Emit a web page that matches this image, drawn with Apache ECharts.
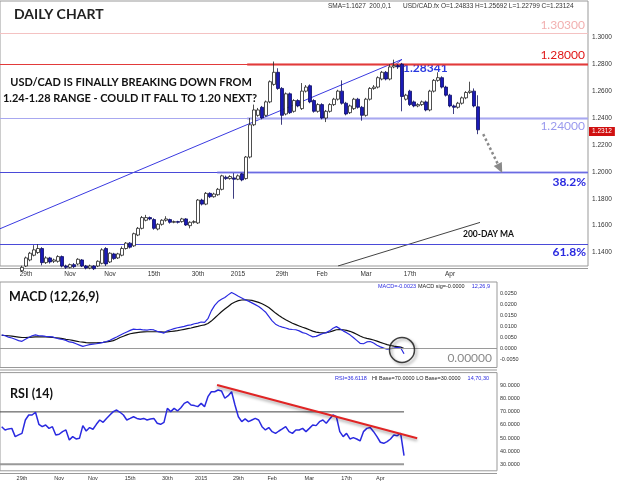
<!DOCTYPE html>
<html><head><meta charset="utf-8">
<script src="https://cdn.jsdelivr.net/npm/echarts@6/dist/echarts.min.js"></script>
<style>html,body{margin:0;padding:0;background:#fff}#c{width:620px;height:486px}</style>
</head><body><div id="c"></div>
<script>
// ---- data ----
const tickIdx = [6,17,27,38,49,59,70,80,91,102,112];
const tickLabels = ['29th','Nov','Nov','15th','30th','2015','29th','Feb','Mar','17th','Apr'];
const opens = [1.1220,1.1235,1.1250,1.1230,1.1240,1.1265,1.1300,1.1345,1.1380,1.1400,
1.1430,1.1325,1.1360,1.1335,1.1335,1.1370,1.1300,1.1290,1.1310,1.1315,
1.1345,1.1300,1.1285,1.1300,1.1300,1.1320,1.1430,1.1330,1.1390,1.1360,
1.1380,1.1430,1.1470,1.1450,1.1530,1.1580,1.1640,1.1660,1.1645,1.1575,
1.1610,1.1640,1.1645,1.1625,1.1630,1.1630,1.1650,1.1600,1.1625,1.1620,
1.1790,1.1760,1.1840,1.1815,1.1830,1.1870,1.1960,1.1950,1.1955,1.1945,
1.1985,1.1950,1.2110,1.2350,1.2420,1.2480,1.2420,1.2520,1.2650,1.2740,
1.2620,1.2430,1.2580,1.2450,1.2530,1.2470,1.2600,1.2640,1.2530,1.2450,
1.2500,1.2400,1.2450,1.2500,1.2540,1.2600,1.2510,1.2440,1.2470,1.2540,
1.2480,1.2420,1.2540,1.2620,1.2630,1.2690,1.2740,1.2690,1.2780,1.2790,
1.2800,1.2540,1.2600,1.2520,1.2490,1.2500,1.2520,1.2460,1.2600,1.2680,
1.2700,1.2630,1.2570,1.2490,1.2480,1.2510,1.2550,1.2590,1.2600,1.24833];
const closes = [1.1235,1.1250,1.1230,1.1240,1.1265,1.1290,1.1360,1.1395,1.1420,1.1430,
1.1325,1.1360,1.1330,1.1345,1.1370,1.1300,1.1290,1.1310,1.1295,1.1350,
1.1300,1.1285,1.1300,1.1280,1.1335,1.1420,1.1315,1.1395,1.1355,1.1390,
1.1430,1.1470,1.1440,1.1540,1.1580,1.1660,1.1660,1.1650,1.1580,1.1610,
1.1640,1.1650,1.1625,1.1630,1.1625,1.1650,1.1605,1.1625,1.1630,1.1790,
1.1760,1.1840,1.1815,1.1835,1.1870,1.1970,1.1950,1.1965,1.1945,1.1970,
1.1940,1.2110,1.2350,1.2460,1.2460,1.2400,1.2520,1.2670,1.2740,1.2620,
1.2420,1.2580,1.2440,1.2530,1.2490,1.2600,1.2630,1.2520,1.2450,1.2500,
1.2400,1.2450,1.2500,1.2540,1.2600,1.2510,1.2430,1.2490,1.2540,1.2480,
1.2420,1.2540,1.2620,1.2630,1.2700,1.2740,1.2690,1.2780,1.2790,1.2780,
1.2560,1.2570,1.2500,1.2490,1.2500,1.2520,1.2460,1.2600,1.2680,1.2700,
1.2630,1.2570,1.2490,1.2480,1.2510,1.2550,1.2590,1.2600,1.2490,1.23124];
const lows = [1.1205,1.1225,1.1220,1.1218,1.1232,1.1255,1.1292,1.1335,1.1372,1.1390,
1.1305,1.1315,1.1318,1.1322,1.1325,1.1290,1.1278,1.1282,1.1285,1.1305,
1.1292,1.1275,1.1276,1.1270,1.1292,1.1312,1.1300,1.1322,1.1346,1.1352,
1.1372,1.1422,1.1430,1.1442,1.1522,1.1572,1.1632,1.1640,1.1570,1.1565,
1.1600,1.1630,1.1615,1.1618,1.1616,1.1622,1.1598,1.1580,1.1615,1.1612,
1.1750,1.1752,1.1805,1.1808,1.1822,1.1862,1.1940,1.1942,1.1800,1.1938,
1.1930,1.1942,1.2100,1.2340,1.2410,1.2390,1.2410,1.2510,1.2640,1.2610,
1.2350,1.2420,1.2430,1.2440,1.2480,1.2460,1.2590,1.2510,1.2440,1.2440,
1.2390,1.2370,1.2440,1.2490,1.2530,1.2500,1.2420,1.2430,1.2460,1.2470,
1.2380,1.2410,1.2530,1.2610,1.2620,1.2680,1.2680,1.2680,1.2770,1.2765,
1.2450,1.2530,1.2490,1.2480,1.2480,1.2490,1.2450,1.2450,1.2590,1.2670,
1.2620,1.2560,1.2480,1.2430,1.2470,1.2500,1.2540,1.2580,1.2480,1.22799];
const highs = [1.1250,1.1262,1.1258,1.1252,1.1275,1.1302,1.1370,1.1405,1.1455,1.1462,
1.1440,1.1372,1.1368,1.1355,1.1380,1.1378,1.1310,1.1318,1.1322,1.1358,
1.1352,1.1308,1.1310,1.1306,1.1342,1.1432,1.1440,1.1402,1.1398,1.1398,
1.1445,1.1478,1.1478,1.1548,1.1590,1.1672,1.1680,1.1668,1.1655,1.1618,
1.1648,1.1670,1.1652,1.1638,1.1636,1.1658,1.1656,1.1632,1.1640,1.1798,
1.1800,1.1850,1.1848,1.1845,1.1880,1.1978,1.1972,1.1975,1.1990,1.1980,
1.1992,1.2118,1.2400,1.2500,1.2475,1.2490,1.2530,1.2680,1.2820,1.2770,
1.2630,1.2590,1.2590,1.2540,1.2540,1.2660,1.2645,1.2650,1.2540,1.2510,
1.2510,1.2460,1.2510,1.2550,1.2610,1.2680,1.2520,1.2500,1.2550,1.2550,
1.2490,1.2550,1.2630,1.2645,1.2710,1.2750,1.2750,1.2800,1.2834,1.2800,
1.2810,1.2580,1.2610,1.2530,1.2510,1.2530,1.2530,1.2610,1.2690,1.2740,
1.2710,1.2640,1.2580,1.2500,1.2520,1.2560,1.2600,1.2670,1.2620,1.25692];
const macd = [0.0062,0.0058,0.0052,0.0048,0.0042,0.0036,0.0033,0.0042,0.0050,0.0058,
0.0062,0.0058,0.0057,0.0055,0.0054,0.0053,0.0048,0.0044,0.0041,0.0037,
0.0030,0.0028,0.0022,0.0016,0.0010,0.0014,0.0018,0.0020,0.0022,0.0025,
0.0028,0.0032,0.0038,0.0045,0.0052,0.0060,0.0068,0.0075,0.0082,0.0088,
0.0086,0.0087,0.0084,0.0083,0.0086,0.0084,0.0078,0.0074,0.0070,0.0080,
0.0085,0.0090,0.0094,0.0097,0.0100,0.0105,0.0107,0.0112,0.0115,0.0120,
0.0118,0.0135,0.0170,0.0195,0.0212,0.0222,0.0230,0.0242,0.0253,0.0245,
0.0236,0.0228,0.0220,0.0214,0.0206,0.0198,0.0190,0.0178,0.0165,0.0145,
0.0125,0.0110,0.0102,0.0097,0.0093,0.0088,0.0086,0.0085,0.0080,0.0072,
0.0068,0.0060,0.0053,0.0055,0.0062,0.0068,0.0072,0.0080,0.0092,0.0099,
0.0090,0.0080,0.0072,0.0062,0.0050,0.0037,0.0024,0.0022,0.0030,0.0032,
0.0025,0.0015,0.0008,0.0002,-0.0002,0.0000,0.0002,0.0006,0.0004,-0.0023];
const macdSignal = [0.0060,0.0059,0.0058,0.0056,0.0054,0.0052,0.0050,0.0050,0.0051,0.0052,
0.0053,0.0053,0.0053,0.0053,0.0052,0.0051,0.0049,0.0047,0.0045,0.0042,
0.0040,0.0037,0.0034,0.0031,0.0029,0.0027,0.0026,0.0026,0.0026,0.0027,
0.0028,0.0030,0.0033,0.0036,0.0042,0.0050,0.0056,0.0062,0.0067,0.0070,
0.0072,0.0074,0.0075,0.0076,0.0076,0.0076,0.0076,0.0075,0.0074,0.0075,
0.0077,0.0079,0.0081,0.0084,0.0087,0.0090,0.0093,0.0097,0.0100,0.0104,
0.0107,0.0113,0.0124,0.0138,0.0152,0.0166,0.0178,0.0190,0.0202,0.0210,
0.0216,0.0219,0.0220,0.0219,0.0217,0.0213,0.0208,0.0202,0.0194,0.0185,
0.0173,0.0160,0.0149,0.0139,0.0130,0.0122,0.0114,0.0108,0.0102,0.0096,
0.0091,0.0085,0.0079,0.0074,0.0072,0.0071,0.0072,0.0075,0.0080,0.0085,
0.0086,0.0085,0.0082,0.0078,0.0072,0.0065,0.0057,0.0050,0.0046,0.0043,
0.0039,0.0034,0.0028,0.0023,0.0018,0.0014,0.0011,0.0009,0.0007,0.0000];
const rsi = [58.7,56.2,57.0,57.4,51.1,52.4,53.6,63.8,67.6,67.6,
69.7,60.5,58.7,60.0,57.4,58.7,52.4,52.9,54.9,56.2,
48.5,51.1,49.3,49.8,59.5,55.4,58.0,56.7,60.5,63.8,
62.0,65.0,67.6,70.2,71.4,69.7,67.6,63.8,65.0,66.3,
65.0,64.3,65.0,63.8,64.6,65.0,61.3,60.5,62.0,72.7,
70.2,72.7,70.7,73.2,76.5,77.8,75.3,74.8,74.0,76.5,
74.0,81.6,85.4,85.4,86.7,86.0,80.4,82.4,85.4,75.3,
66.3,62.5,64.6,62.5,63.8,65.0,63.8,58.7,56.2,58.0,
54.9,53.6,55.4,57.0,58.7,54.9,53.6,56.2,56.2,57.4,
54.9,57.4,60.0,59.5,62.5,63.8,61.3,64.6,67.6,66.3,
54.9,51.1,53.6,49.3,50.3,49.3,47.8,54.9,57.4,58.0,
54.9,51.1,46.8,46.0,47.3,49.3,52.4,51.8,53.6,36.6];
const levelPink = 1.3030, levelRed = 1.2800, levelLav = 1.2400, fib382 = 1.2000, fib618 = 1.1463;
const lastClose = 1.23124;
const trendLine = [[-0.5,1.1577],[100,1.2836],[98.5,1.2800]];
const sma200Line = [[84,1.1300],[119.5,1.1624]];
const projArrow = [[120.3,1.2280],[124.5,1.2025]];
const rsiTrend = [[63.7,90.5],[122.9,49.8]];
const rsiHi = [[-0.5,70],[119,70]];
const rsiLo = [[-0.5,30],[119,30]];
const macdCircle = [[118.4,-0.0006]];
// ---- build ----
const NCAT = 147;
const cats = Array.from({length:NCAT}, () => '');
tickIdx.forEach((k,j) => { cats[k] = tickLabels[j]; });
const ohlc = opens.map((o,i) => [o, closes[i], lows[i], highs[i]]);
const ax = 'Liberation Sans';
const chart = echarts.init(document.getElementById('c'), null, {renderer:'canvas'});
const catAxis = (g, showLab, fs) => ({type:'category', gridIndex:g, data:cats, boundaryGap:true,
  axisLine:{show:false}, axisTick:{show:false}, splitLine:{show:false},
  axisLabel:{show:showLab, interval:(i,v)=>v!=='', fontSize:fs, color:'#333', fontFamily:ax, margin:5, hideOverlap:false}});
const valX = g => ({type:'value', gridIndex:g, min:-0.5, max:NCAT-0.5, show:false});
const hl = (v, c, w, from) => [{coord:[from, v], lineStyle:{color:c, width:w, type:'solid'}}, {coord:[NCAT-0.5, v]}];
function T(text, x, y, font, fill, align){ return {type:'text', x:x, y:y, silent:true, style:{text:text, font:font, fill:fill, textAlign:align||'left', textVerticalAlign:'middle'}}; }
const option = {
  animation:false, backgroundColor:'#fff',
  grid:[
    {left:0, top:1, width:588, height:265, show:true, borderColor:'#999', borderWidth:1},
    {left:0, top:282, width:497, height:85.5, show:true, borderColor:'#999', borderWidth:1},
    {left:0, top:372.6, width:497, height:98.2, show:true, borderColor:'#999', borderWidth:1}
  ],
  xAxis:[catAxis(0,true,6.5), valX(0), catAxis(1,false,6), valX(1), catAxis(2,true,5.5), valX(2)],
  yAxis:[
    {type:'value', gridIndex:0, position:'right', min:1.13, max:1.327, interval:0.01, scale:true,
     axisLine:{show:false}, axisTick:{show:false}, splitLine:{show:false},
     axisLabel:{fontSize:6.5, color:'#333', fontFamily:ax, margin:4, showMaxLabel:false,
       formatter:v=>{const k=v*100; return (Math.abs(k-Math.round(k))<1e-6 && Math.round(k)%2===0 && v<1.305)? v.toFixed(4):'';}}},
    {type:'value', gridIndex:1, position:'right', min:-0.0085, max:0.03, interval:0.0005,
     axisLine:{show:false}, axisTick:{show:false}, splitLine:{show:false},
     axisLabel:{fontSize:5.5, color:'#333', fontFamily:ax, margin:3, showMaxLabel:false, showMinLabel:false,
       formatter:v=>{const k=v/0.005; return (Math.abs(k-Math.round(k))<1e-6 && v<0.026 && v>-0.006)? v.toFixed(4):'';}}},
    {type:'value', gridIndex:2, position:'right', min:25, max:100, interval:5,
     axisLine:{show:false}, axisTick:{show:false}, splitLine:{show:false},
     axisLabel:{fontSize:5.5, color:'#333', fontFamily:ax, margin:3,
       formatter:v=>(Math.round(v)%10===0 && v>=30 && v<=90)? v.toFixed(4):''}}
  ],
  series:[
    {type:'line', xAxisIndex:1, yAxisIndex:0, data:trendLine, symbol:'none', lineStyle:{color:'#3a3ae0', width:1}, z:3,
     markLine:{silent:true, symbol:['none','none'], label:{show:false}, data:[
       hl(levelPink,'#f4c2c2',1,-0.5), hl(levelRed,'#e23a3a',1.2,-0.5), hl(levelRed,'rgba(226,58,58,0.55)',3,61.3),
       hl(levelLav,'#a8a8f0',1,-0.5), hl(levelLav,'rgba(168,168,240,0.55)',3,61.3),
       hl(fib382,'#4a4ad8',1,-0.5), hl(fib382,'rgba(140,140,235,0.5)',3,53.8),
       hl(fib618,'#4a4ad8',1,-0.5)
     ]}},
    {type:'line', xAxisIndex:1, yAxisIndex:0, data:sma200Line, symbol:'none', lineStyle:{color:'#444', width:1}, z:3},
    {type:'line', xAxisIndex:1, yAxisIndex:0, data:[], symbol:'none', z:6,
     markLine:{silent:true, symbol:['none','triangle'], symbolSize:[9,10], label:{show:false},
       data:[[{coord:projArrow[0], lineStyle:{color:'#8a8a8a', width:2.5, type:'dotted'}, itemStyle:{color:'#8a8a8a'}},{coord:projArrow[1]}]]}},
    {type:'candlestick', xAxisIndex:0, yAxisIndex:0, data:ohlc, barWidth:3, clip:true, z:5,
     itemStyle:{color:'#fff', color0:'#1a1ab8', borderColor:'#222', borderColor0:'#0d0d60', borderWidth:0.8},
     markLine:{silent:true, symbol:['none','none'], data:[{yAxis:lastClose, lineStyle:{color:'rgba(0,0,0,0)', width:0}}],
       label:{show:true, position:'end', formatter:'1.2312', backgroundColor:'#d01010', color:'#fff', fontSize:6.5, fontFamily:ax, padding:[1,3,1,3], distance:1}}},
    {type:'line', xAxisIndex:2, yAxisIndex:1, data:macdSignal, symbol:'none', lineStyle:{color:'#111', width:1.2}, z:3,
     markLine:{silent:true, symbol:['none','none'], label:{show:false}, data:[{yAxis:0, lineStyle:{color:'#9a9a9a', width:1, type:'solid'}}]}},
    {type:'line', xAxisIndex:2, yAxisIndex:1, data:macd, symbol:'none', lineStyle:{color:'#2a2ae0', width:1.2}, z:4},
    {type:'scatter', xAxisIndex:3, yAxisIndex:1, data:macdCircle, symbol:'circle', symbolSize:25, z:6,
     itemStyle:{color:'rgba(0,0,0,0)', borderColor:'#111', borderWidth:1.5, shadowBlur:3, shadowColor:'rgba(0,0,0,0.45)', shadowOffsetX:2, shadowOffsetY:2}},
    {type:'line', xAxisIndex:5, yAxisIndex:2, data:rsiHi, symbol:'none', lineStyle:{color:'#444', width:1}},
    {type:'line', xAxisIndex:5, yAxisIndex:2, data:rsiLo, symbol:'none', lineStyle:{color:'#999', width:2.2}},
    {type:'line', xAxisIndex:4, yAxisIndex:2, data:rsi, symbol:'none', lineStyle:{color:'#2a2ae0', width:1.5}, z:4},
    {type:'line', xAxisIndex:5, yAxisIndex:2, data:rsiTrend, symbol:'none', z:5,
     lineStyle:{color:'#e02424', width:2, shadowBlur:3, shadowColor:'rgba(0,0,0,0.35)', shadowOffsetY:2}}
  ],
  graphic:[
    {type:'line', silent:true, shape:{x1:0,y1:268.5,x2:588,y2:268.5}, style:{stroke:'#999', lineWidth:1}},
    {type:'line', silent:true, shape:{x1:0,y1:370,x2:497,y2:370}, style:{stroke:'#999', lineWidth:1}},
    {type:'line', silent:true, shape:{x1:0,y1:473.5,x2:497,y2:473.5}, style:{stroke:'#999', lineWidth:1}},
    T('DAILY CHART', 14, 14, 'bold 14px Lato', '#222'),
    T('SMA=1.1627  200,0,1', 328, 6, '6.5px '+ax, '#333'),
    T('USD/CAD.fx O=1.24833 H=1.25692 L=1.22799 C=1.23124', 403, 6, '6.5px '+ax, '#333'),
    T('USD/CAD IS FINALLY BREAKING DOWN FROM', 131, 82, 'bold 11px Lato', '#111', 'center'),
    T('1.24-1.28 RANGE - COULD IT FALL TO 1.20 NEXT?', 130, 98, 'bold 11px Lato', '#111', 'center'),
    T('1.30300', 585, 25, '12px Lato', '#f2b0b0', 'right'),
    T('1.28000', 585, 55, '12px Lato', '#e01818', 'right'),
    T('1.28341', 403, 68, 'bold 12px Lato', '#2a3ae0'),
    T('1.24000', 585, 126, '12px Lato', '#9a9aee', 'right'),
    T('38.2%', 586, 182, 'bold 12px Lato', '#2a2ae0', 'right'),
    T('61.8%', 586, 252, 'bold 12px Lato', '#2a2ae0', 'right'),
    T('200-DAY MA', 463, 234, 'bold 8.5px Lato', '#111'),
    T('MACD (12,26,9)', 9, 297, 'bold 12.5px Lato', '#111'),
    T('MACD=-0.0023', 378, 286, '5.5px '+ax, '#2a2ae0'),
    T('MACD sig=-0.0000', 418, 286, '5.5px '+ax, '#222'),
    T('12,26,9', 490, 286, '5.5px '+ax, '#2a2ae0', 'right'),
    T('0.00000', 492, 358, '12px Lato', '#8a8a8a', 'right'),
    T('RSI (14)', 10, 394, 'bold 12.5px Lato', '#111'),
    T('RSI=36.6118', 335, 378, '5.5px '+ax, '#2a2ae0'),
    T('HI Base=70.0000 LO Base=30.0000', 372, 378, '5.5px '+ax, '#222'),
    T('14,70,30', 489, 378, '5.5px '+ax, '#2a2ae0', 'right')
  ]
};
chart.setOption(option);
</script></body></html>
